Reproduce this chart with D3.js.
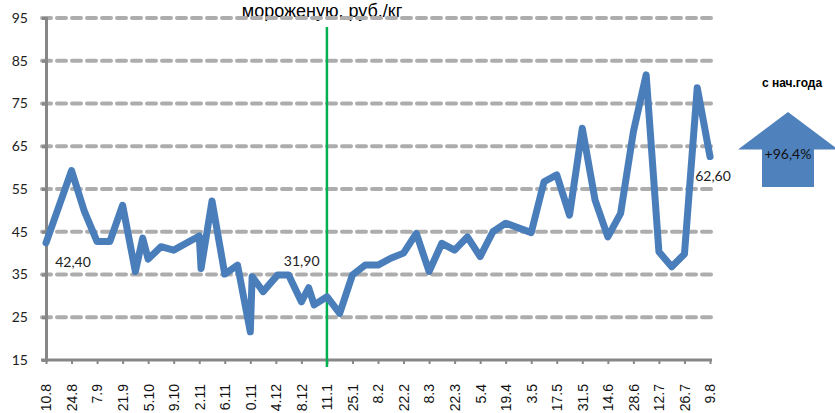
<!DOCTYPE html>
<html>
<head>
<meta charset="utf-8">
<script src="https://cdn.jsdelivr.net/npm/d3@7"></script>
<style>
  body { margin: 0; background: #fff; }
  svg { display: block; }
</style>
</head>
<body>
<svg id="canvas" width="835" height="413"></svg>
<script>
// weekly price, rub/kg
var dates = [
  '2020-08-10', '2020-08-24', '2020-08-31', '2020-09-07', '2020-09-14', '2020-09-21',
  '2020-09-28', '2020-10-02', '2020-10-05', '2020-10-12', '2020-10-19', '2020-11-02',
  '2020-11-03', '2020-11-09', '2020-11-16', '2020-11-23', '2020-11-30', '2020-12-01',
  '2020-12-07', '2020-12-15', '2020-12-21', '2020-12-28', '2021-01-01', '2021-01-04',
  '2021-01-11', '2021-01-18', '2021-01-25', '2021-02-01', '2021-02-08', '2021-02-15',
  '2021-02-22', '2021-03-01', '2021-03-08', '2021-03-15', '2021-03-22', '2021-03-29',
  '2021-04-05', '2021-04-12', '2021-04-19', '2021-05-03', '2021-05-10', '2021-05-17',
  '2021-05-24', '2021-05-31', '2021-06-07', '2021-06-14', '2021-06-21', '2021-06-28',
  '2021-07-05', '2021-07-12', '2021-07-19', '2021-07-26', '2021-08-02', '2021-08-09'
];
var prices = [
  42.4, 59.3, 49.8, 42.7, 42.7, 51.2,
  35.7, 43.5, 38.6, 41.5, 40.7, 44.0,
  36.4, 52.2, 35.1, 37.2, 21.6, 34.5,
  31.0, 34.9, 34.9, 28.6, 31.9, 27.9,
  29.8, 25.9, 34.9, 37.2, 37.2, 38.8,
  40.0, 44.6, 35.7, 42.3, 40.7, 43.8,
  39.2, 45.0, 47.0, 44.8, 56.7, 58.3,
  48.9, 69.2, 52.4, 43.8, 49.3, 68.4,
  81.7, 40.3, 36.8, 39.8, 78.7, 62.6
];
var tickDates = [
  '2020-08-10', '2020-08-24', '2020-09-07', '2020-09-21', '2020-10-05', '2020-10-19',
  '2020-11-02', '2020-11-16', '2020-11-30', '2020-12-14', '2020-12-28', '2021-01-11',
  '2021-01-25', '2021-02-08', '2021-02-22', '2021-03-08', '2021-03-22', '2021-04-05',
  '2021-04-19', '2021-05-03', '2021-05-17', '2021-05-31', '2021-06-14', '2021-06-28',
  '2021-07-12', '2021-07-26', '2021-08-09'
];
// labels as they show in the picture (first digit cut off on some)
var tickLabels = [
  '10.8', '24.8', '7.9', '21.9', '5.10', '9.10',
  '2.11', '6.11', '0.11', '4.12', '8.12', '11.1',
  '25.1', '8.2', '22.2', '8.3', '22.3', '5.4',
  '19.4', '3.5', '17.5', '31.5', '14.6', '28.6',
  '12.7', '26.7', '9.8'
];
var yTicks = [15, 25, 35, 45, 55, 65, 75, 85, 95];
var labelled = ['2020-08-10', '2021-01-01', '2021-08-09'];
var yearStart = '2021-01-11';
var changeText = '+96,4%';

var parse = d3.utcParse('%Y-%m-%d');
var fmtVal = d3.format('.2f');

var data = dates.map(function(d, i) {
  return {date: parse(d), value: prices[i], key: d};
});

var svg = d3.select('#canvas');

var x = d3
  .scaleUtc()
  .domain([parse(tickDates[0]), parse(tickDates[tickDates.length - 1])])
  .range([46, 710]);
var y = d3
  .scaleLinear()
  .domain([15, 95])
  .range([360, 18]);

// title (only the lower line is in view)
svg
  .append('text')
  .attr('x', 322)
  .attr('y', 16.5)
  .attr('text-anchor', 'middle')
  .style('font-family', 'Liberation Sans, Arial, sans-serif')
  .style('font-size', '18px')
  .style('fill', '#000')
  .text('мороженую, руб./кг');

// dashed grid
svg
  .append('g')
  .selectAll('line')
  .data(yTicks.slice(1))
  .enter()
  .append('line')
  .attr('x1', 42)
  .attr('x2', 712)
  .attr('y1', d => y(d))
  .attr('y2', d => y(d))
  .style('stroke', '#adadad')
  .style('stroke-width', 4)
  .style('stroke-dasharray', '9,6')
  .style('stroke-linecap', 'round');

// y axis
var yAxis = svg
  .append('g')
  .attr('transform', 'translate(46,0)')
  .call(d3.axisLeft(y).tickValues(yTicks).tickSize(4).tickPadding(14));
yAxis.select('.domain').style('stroke', '#878787').style('stroke-width', 3);
yAxis.selectAll('line').style('stroke', '#878787').style('stroke-width', 3);
yAxis
  .selectAll('text')
  .style('font-family', 'Lato, sans-serif')
  .style('font-size', '14px')
  .style('fill', '#222');

// x axis
var xAxis = svg
  .append('g')
  .attr('transform', 'translate(0,' + y(15) + ')')
  .call(
    d3
      .axisBottom(x)
      .tickValues(tickDates.map(parse))
      .tickFormat((d, i) => tickLabels[i])
      .tickSize(4)
      .tickSizeOuter(0),
  );
xAxis
  .select('.domain')
  .attr('d', 'M41,0H' + (x.range()[1] + 2))
  .style('stroke', '#878787')
  .style('stroke-width', 3);
xAxis.selectAll('line').style('stroke', '#878787').style('stroke-width', 2);
xAxis
  .selectAll('text')
  .attr('transform', 'rotate(-90)')
  .attr('x', -24)
  .attr('y', 0)
  .attr('dy', '0.35em')
  .attr('text-anchor', 'end')
  .style('font-family', 'Liberation Sans, Arial, sans-serif')
  .style('font-size', '14px')
  .style('fill', '#111');

// start-of-year marker
svg
  .append('line')
  .attr('x1', x(parse(yearStart)))
  .attr('x2', x(parse(yearStart)))
  .attr('y1', 27)
  .attr('y2', y(15) + 7)
  .style('stroke', '#00b050')
  .style('stroke-width', 2.5);

// price line
var line = d3
  .line()
  .x(d => x(d.date))
  .y(d => y(d.value));

svg
  .append('path')
  .datum(data)
  .attr('d', line)
  .style('fill', 'none')
  .style('stroke', '#4a7ebb')
  .style('stroke-width', 7)
  .style('stroke-linejoin', 'round')
  .style('stroke-linecap', 'round');

// data labels
var offsets = {
  '2020-08-10': [27, 24],
  '2021-01-01': [-7, -22],
  '2021-08-09': [3, 24],
};
svg
  .append('g')
  .selectAll('text')
  .data(data.filter(d => labelled.indexOf(d.key) >= 0))
  .enter()
  .append('text')
  .attr('x', d => x(d.date) + offsets[d.key][0])
  .attr('y', d => y(d.value) + offsets[d.key][1])
  .attr('text-anchor', 'middle')
  .style('font-family', 'Lato, sans-serif')
  .style('font-size', '14px')
  .style('fill', '#222')
  .text(d => fmtVal(d.value).replace('.', ','));

// change-since-start-of-year arrow
var arrow = svg.append('g').attr('transform', 'translate(788,112)');
arrow
  .append('path')
  .attr('d', 'M0,0L50,37.5H26V75H-26V37.5H-50Z')
  .style('fill', '#4f81bd');
arrow
  .append('text')
  .attr('x', 0)
  .attr('y', 47)
  .attr('text-anchor', 'middle')
  .style('font-family', 'Lato, sans-serif')
  .style('font-size', '14px')
  .style('fill', '#111')
  .text(changeText);
svg
  .append('text')
  .attr('x', 792)
  .attr('y', 87)
  .attr('text-anchor', 'middle')
  .style('font-family', 'Liberation Sans, Arial, sans-serif')
  .style('font-size', '12px')
  .style('font-weight', 'bold')
  .style('fill', '#000')
  .text('с нач.года');
</script>
</body>
</html>
